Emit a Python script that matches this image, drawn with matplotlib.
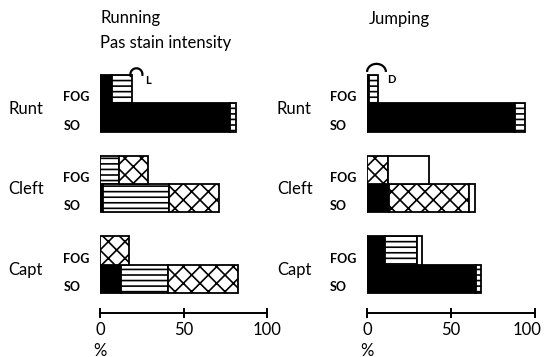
#!/usr/bin/env python
# -*- coding: utf-8 -*-

import numpy as np
import matplotlib as mpl
from matplotlib import pyplot as plt
from matplotlib.transforms import ScaledTranslation

# グループと線維タイプ
groups = ['Runt', 'Cleft', 'Capt']
fibres = ['FOG', 'SO']
ticks = [0, 50, 100]

# 各バーの割合 [%]  順番: Runt FOG, Runt SO, Cleft FOG, Cleft SO, Capt FOG, Capt SO
run_black = [7, 78, 0, 2, 0, 12.5]
run_lines = [12, 3.5, 11.5, 39.5, 0, 28]
run_cross = [0, 0, 17, 29.5, 17.5, 42]
run_white = [0, 0, 0, 0, 0, 0]

jump_black = [1, 88, 0, 13, 10.5, 65]
jump_lines = [5.5, 6, 0, 0, 19.5, 3]
jump_cross = [0, 0, 12.5, 48, 0, 0]
jump_white = [0, 0, 24.5, 3.5, 3, 0]

mpl.rcParams['font.family'] = ['Lato', 'DejaVu Sans']
mpl.rcParams['hatch.linewidth'] = 1.2
mpl.rcParams['hatch.color'] = 'black'

styles = [
    {'facecolor': 'black', 'hatch': None},
    {'facecolor': 'white', 'hatch': '---'},
    {'facecolor': 'white', 'hatch': 'xx'},
    {'facecolor': 'white', 'hatch': None},
]

bar_h = 0.35


def draw_panel(ax, segments, shift_last=0):
    n = len(groups)
    ypos = []
    for g in range(n):
        yc = n - 1 - g
        ypos += [yc + bar_h / 2, yc - bar_h / 2]
    ypos = np.array(ypos)

    left = np.zeros(len(ypos))
    for seg, st in zip(segments, styles):
        w = np.array(seg, dtype=float)
        m = w > 0
        if m.any():
            ax.barh(ypos[m], w[m], left=left[m], height=bar_h,
                    facecolor=st['facecolor'], hatch=st['hatch'],
                    edgecolor='black', linewidth=1.3)
        left += w

    # FOG / SO ラベル
    for g in range(n):
        yc = n - 1 - g
        ax.text(-22, yc + bar_h / 2 - 0.1, fibres[0], fontsize=9,
                fontweight='bold', ha='left', va='center')
        ax.text(-22, yc - bar_h / 2 - 0.1, fibres[1], fontsize=9,
                fontweight='bold', ha='left', va='center')

    ax.set_xlim(0, 100)
    ax.set_ylim(-0.6, 2.6)
    for s in ['top', 'left', 'right']:
        ax.spines[s].set_visible(False)
    ax.spines['bottom'].set_bounds(0, 100)
    ax.spines['bottom'].set_linewidth(1.4)
    ax.set_yticks([])
    ax.set_xticks(ticks)
    ax.set_xticklabels([str(t) for t in ticks])
    ax.tick_params(axis='x', direction='inout', length=7, width=1.4,
                   labelsize=12, pad=3)
    if shift_last:
        lab = ax.get_xticklabels()[-1]
        lab.set_transform(lab.get_transform() +
                          ScaledTranslation(shift_last / 72, 0,
                                            ax.figure.dpi_scale_trans))
    ax.annotate('%', xy=(0, 0), xycoords=('data', 'axes fraction'),
                xytext=(0, -27), textcoords='offset points',
                ha='center', va='center', fontsize=12)
    ax.patch.set_visible(False)


def hook(ax, cx, cy, rx, ry, t1, t2, lw):
    # 楕円の一部（パラメータ角で指定）
    t = np.radians(np.linspace(t1, t2, 60))
    ax.plot(cx + rx * np.cos(t), cy + ry * np.sin(t), color='black',
            linewidth=lw, solid_capstyle='butt', clip_on=False)


fig = plt.figure(figsize=(5.44, 3.57), dpi=100)
ax1 = fig.add_axes([100 / 544, 1 - 313 / 357, 167 / 544, 258 / 357])
ax2 = fig.add_axes([367 / 544, 1 - 313 / 357, 168 / 544, 258 / 357])

draw_panel(ax1, [run_black, run_lines, run_cross, run_white])
draw_panel(ax2, [jump_black, jump_lines, jump_cross, jump_white],
           shift_last=-6)

# 弧と文字
hook(ax1, 21.8, 2.36, 3.6, 0.075, -15, 205, 1.6)
ax1.text(29.0, 2.28, 'L', fontsize=8, fontweight='bold', ha='center',
         va='center')
hook(ax2, 5.65, 2.39, 5.6, 0.1, 0, 180, 1.6)
ax2.text(14.3, 2.30, 'D', fontsize=8, fontweight='bold', ha='center',
         va='center')

# グループ名
for g, name in enumerate(groups):
    yc = 1 - (103.5 + 80.6 * g + 5) / 357
    fig.text(8 / 544, yc, name, fontsize=12, ha='left', va='center')
    fig.text(277 / 544, yc, name, fontsize=12, ha='left', va='center')

# タイトル
fig.text(100 / 544, 1 - 18 / 357, 'Running', fontsize=12, ha='left',
         va='center')
fig.text(100 / 544, 1 - 43 / 357, 'Pas stain intensity', fontsize=12,
         ha='left', va='center')
fig.text(369 / 544, 1 - 19 / 357, 'Jumping', fontsize=12, ha='left',
         va='center')

plt.savefig('out.png', dpi=100)
